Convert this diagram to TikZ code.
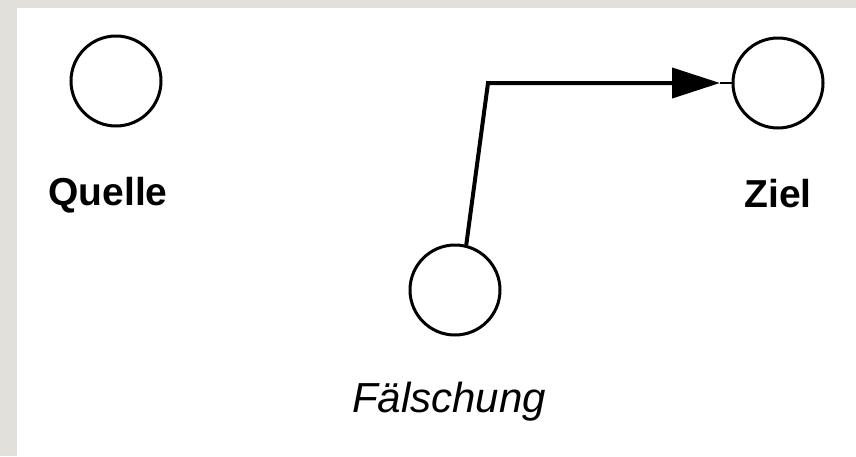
\documentclass[tikz,border=0pt]{standalone}
\usepackage{fontspec}
\setmainfont{Liberation Sans}
\usetikzlibrary{arrows.meta}
\definecolor{frame}{HTML}{E2E0DB}
\begin{document}
\begin{tikzpicture}[x=1pt,y=-1pt,
  place/.style={circle,draw,line width=3pt,minimum size=90pt,inner sep=0pt},
  boldlabel/.style={anchor=base,font=\fontsize{39}{39}\selectfont\bfseries,inner sep=0pt},
  italiclabel/.style={anchor=base,font=\fontsize{42}{42}\selectfont\itshape,inner sep=0pt},
  flow/.style={line width=4pt,line join=miter},
  stub/.style={line width=1.2pt}]
  % page background with grey frame on the left and top
  \fill[frame] (0,0) rectangle (856,456);
  \fill[white] (17,8) rectangle (856,456);
  \useasboundingbox (0,0) rectangle (856,456);

  % places
  \node[place] (quelle) at (116,81) {};
  \node[place] (ziel) at (778,83) {};
  \node[place] (fake) at (455,290) {};

  % labels
  \node[boldlabel] (quelleLabel) at (108,205) {Quelle};
  \node[boldlabel] (zielLabel) at (778,207) {Ziel};
  \node[italiclabel] (fakeLabel) at (449,412) {Fälschung};

  % connector from the forgery to the target
  \coordinate (bend) at (488,83);
  \coordinate (tip) at (720,83);
  \draw[flow,-{Triangle[length=48pt,width=30pt]}] (fake.76) -- (bend) -- (tip);
  \draw[stub] (tip) -- (ziel.west);
\end{tikzpicture}
\end{document}
